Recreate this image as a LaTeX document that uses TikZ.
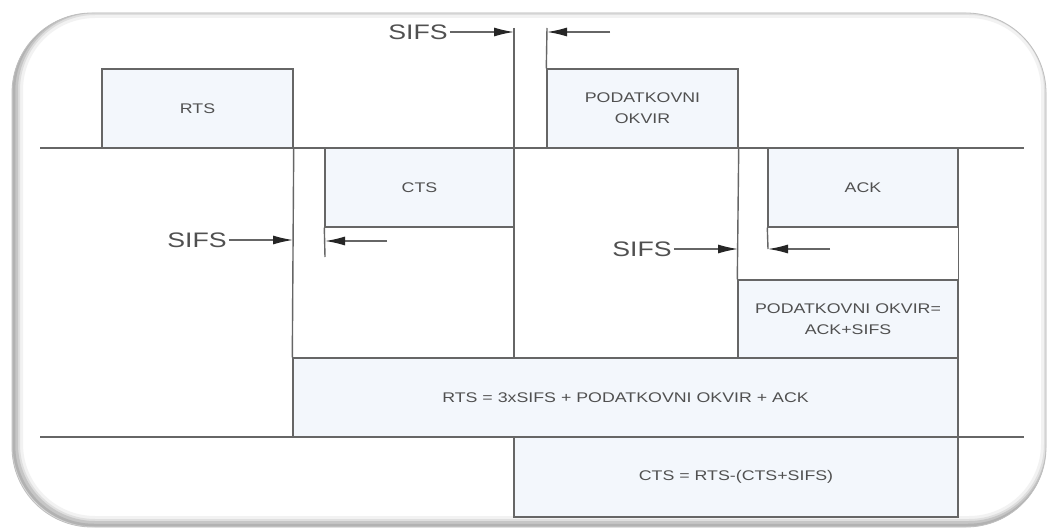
\documentclass[tikz,border=0pt]{standalone}
\usepackage{fontspec}
\setmainfont{Liberation Sans}
\newfontfamily\lblfont[FakeStretch=1.27]{Liberation Sans}
\usetikzlibrary{arrows.meta}
\definecolor{linec}{HTML}{666666}
\definecolor{boxfill}{HTML}{F3F7FC}
\definecolor{txtc}{HTML}{505050}
\tikzset{
  frame/.style={rounded corners=80pt},
  ln/.style={draw=linec, line width=1.4pt},
  slot/.style={ln, fill=boxfill, rectangle, inner sep=0pt, align=center,
    font=\lblfont\fontsize{14}{21}\selectfont, text=txtc},
  sifs/.style={font=\lblfont\fontsize{21}{24}\selectfont, text=txtc, inner sep=2pt},
  arr/.style={ln, -{Latex[length=20pt,width=9pt,color=black!85]}},
}
\begin{document}
\begin{tikzpicture}[x=1pt,y=-1pt]
\useasboundingbox (0,0) rectangle (1048,529);
\fill[white] (0,0) rectangle (1048,529);
% frame with inner shading
\begin{scope}
  \clip[frame] (12,13) rectangle (1046,527);
  \fill[white] (12,13) rectangle (1046,527);
  \draw[frame, gray!10, line width=16pt] (15,10) rectangle (1049,524);
  \draw[frame, gray!25, line width=10pt] (15,10) rectangle (1049,524);
  \draw[frame, gray!45, line width=6pt] (15,10) rectangle (1049,524);
  \draw[frame, gray!60, line width=2.5pt] (14,11) rectangle (1048,525);
\end{scope}
\draw[frame, gray!50, line width=0.8pt] (12,13) rectangle (1046,527);

% boxes
\node[slot, minimum width=191pt, minimum height=79pt] (rts) at (197.5,108.5) {RTS};
\node[slot, minimum width=189pt, minimum height=79pt] (cts) at (419.5,187.5) {CTS};
\node[slot, minimum width=191pt, minimum height=79pt] (pod) at (642.5,108.5) {PODATKOVNI\\OKVIR};
\node[slot, minimum width=190pt, minimum height=79pt] (ack) at (863,187.5) {ACK};
\node[slot, minimum width=220pt, minimum height=78pt] (podeq) at (848,319) {PODATKOVNI OKVIR=\\ACK+SIFS};
\node[slot, minimum width=665pt, minimum height=79pt] (rtseq) at (625.5,397.5) {RTS = 3xSIFS + PODATKOVNI OKVIR + ACK};
\node[slot, minimum width=444pt, minimum height=80pt] (ctseq) at (736,477) {CTS = RTS-(CTS+SIFS)};

% time lines
\coordinate (l1a) at (40,148);
\coordinate (l1b) at (1024,148);
\coordinate (l2a) at (40,437);
\coordinate (l2b) at (1024,437);
\draw[ln] (l1a) -- (l1b);
\draw[ln] (l2a) -- (l2b);

% vertical lines
\coordinate (t514) at (514,28);
\coordinate (t547) at (547,28);
\draw[ln] (rts.south east) -- (rtseq.north west);
\draw[ln] (t514) -- (rtseq.north -| t514);
\draw[ln] (t547) -- (pod.north west);
\draw[ln] (pod.south east) -- (podeq.north west);
\draw[ln] (ack.south east) -- (podeq.north east);
\coordinate (ctsx) at (325,257);
\draw[ln] (cts.south west) -- (ctsx);
\coordinate (ackx) at (768,249);
\draw[ln] (ack.south west) -- (ackx);

% SIFS arrows
\node[sifs] (s1) at (418,32) {SIFS};
\coordinate (a1) at (514,32);
\draw[arr] (s1.east) -- (a1);
\coordinate (b1) at (610,32);
\coordinate (b1t) at (547,32);
\draw[arr] (b1) -- (b1t);

\node[sifs] (s2) at (197,240) {SIFS};
\coordinate (a2) at (293,240);
\draw[arr] (s2.east) -- (a2);
\coordinate (b2) at (387,241);
\coordinate (b2t) at (325,241);
\draw[arr] (b2) -- (b2t);

\node[sifs] (s3) at (642,249) {SIFS};
\coordinate (a3) at (738,249);
\draw[arr] (s3.east) -- (a3);
\coordinate (b3) at (830,249);
\draw[arr] (b3) -- (ackx);
\end{tikzpicture}
\end{document}
